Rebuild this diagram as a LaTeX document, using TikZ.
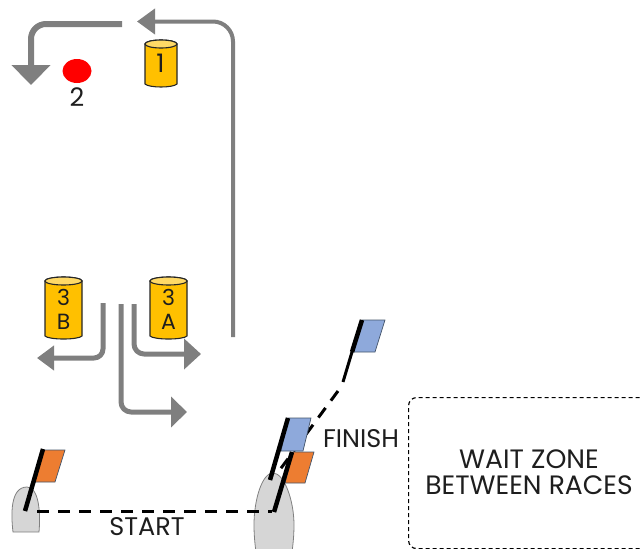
\documentclass[tikz,border=0pt]{standalone}
\usepackage{fontspec}
\setmainfont{Poppins}
\usetikzlibrary{arrows.meta}
\definecolor{arrowgrey}{RGB}{127,127,127}
\definecolor{buoy}{RGB}{255,192,0}
\definecolor{buoytop}{RGB}{255,217,102}
\definecolor{flagblue}{RGB}{142,169,219}
\definecolor{flagorange}{RGB}{237,125,49}
\definecolor{flagedge}{RGB}{68,84,106}
\definecolor{boatgrey}{RGB}{214,214,214}
\definecolor{inkc}{RGB}{30,30,30}
\tikzset{
  course/.style={draw=arrowgrey,line join=round},
  lbl/.style={font=\fontsize{25.5}{26}\selectfont,text=inkc,inner sep=0pt,align=center},
  waitlbl/.style={font=\fontsize{26.6}{26}\selectfont,text=inkc,inner sep=0pt,align=center},
  buoylbl/.style={font=\fontsize{22}{24}\selectfont,text=inkc,inner sep=0pt,align=center},
  flagblue box/.style={fill=flagblue,draw=flagedge,line width=.7pt},
  flagorange box/.style={fill=flagorange,draw=flagedge,line width=.7pt},
  pole/.style={line width=4.5pt,black},
  boat/.style={fill=boatgrey,draw=gray,line width=.8pt},
  lineset/.style={line width=3pt,black,dash pattern=on 12pt off 9pt},
}
\newcommand{\buoycyl}[5]{% x1 x2 ytop ybot ry
  \path[fill=buoy,draw=black!85,line width=1.1pt]
    (#1,#3) -- (#1,#4-2) .. controls (#1+4,#4+2) and (#2-4,#4+2) .. (#2,#4-2) -- (#2,#3)
    arc[start angle=0,end angle=180,x radius={(#2-#1)/2},y radius=-#5] -- cycle;
  \path[fill=buoytop,draw=black!85,line width=1.1pt] ({(#1+#2)/2},#3) ellipse[x radius={(#2-#1)/2},y radius=#5];
}
\begin{document}
\begin{tikzpicture}[x=1pt,y=-1pt]
\useasboundingbox (0,0) rectangle (641,549);
\clip (0,0) rectangle (641,549);
% course arrows
\coordinate (a1s) at (122,24); \coordinate (a1c) at (31,24); \coordinate (a1e) at (31,85);
\draw[course,line width=6pt,rounded corners=15pt,-{Triangle[length=20pt,width=38pt,fill=arrowgrey]}] (a1s) -- (a1c) -- (a1e);
\coordinate (a2s) at (233,337); \coordinate (a2c) at (233,21.5); \coordinate (a2e) at (137,21.5);
\draw[course,line width=4pt,rounded corners=20pt,-{Triangle[length=18pt,width=25pt,fill=arrowgrey]}] (a2s) -- (a2c) -- (a2e);
\coordinate (a3s) at (103,303); \coordinate (a3c) at (103,358); \coordinate (a3e) at (37,358);
\draw[course,line width=5pt,rounded corners=9pt,-{Triangle[length=17pt,width=24pt,fill=arrowgrey]}] (a3s) -- (a3c) -- (a3e);
\coordinate (a4s) at (121,304); \coordinate (a4c) at (121,412); \coordinate (a4e) at (187,412);
\draw[course,line width=5pt,rounded corners=10pt,-{Triangle[length=16pt,width=30pt,fill=arrowgrey]}] (a4s) -- (a4c) -- (a4e);
\coordinate (a5s) at (134,304); \coordinate (a5c) at (134,354); \coordinate (a5e) at (201,354);
\draw[course,line width=5pt,rounded corners=10pt,-{Triangle[length=17pt,width=30pt,fill=arrowgrey]}] (a5s) -- (a5c) -- (a5e);
% buoys
\buoycyl{145}{177}{44}{86}{4}
\node[lbl] (n1) at (160.5,63) {1};
\fill[red] (77,71) ellipse[x radius=14.5,y radius=12];
\node[lbl] (n2) at (77,97) {2};
\buoycyl{45}{82}{281}{338}{4}
\node[buoylbl] (n3b) at (63.5,309) {3\\B};
\buoycyl{150}{187}{281}{338}{4}
\node[buoylbl] (n3a) at (168.5,309) {3\\A};
% start
\draw[boat] (13,532) .. controls (11,515) and (10,487) .. (27,487) .. controls (38,487) and (41,510) .. (39,532) -- cycle;
\draw[boat] (273,473) .. controls (262,473) and (254,500) .. (254,525) .. controls (254,535) and (255,545) .. (256,552) -- (292,552) .. controls (293,545) and (294,535) .. (294,525) .. controls (294,500) and (284,473) .. (273,473) -- cycle;
\coordinate (ls) at (37,511); \coordinate (le) at (272,511);
\draw[lineset] (ls) -- (le);
\coordinate (fs) at (338,391); \coordinate (fe) at (276,475);
\draw[lineset] (fs) -- (fe);
% flags
\path[flagorange box] (44,450) -- (65,450) -- (55,482) -- (35,482) -- cycle;
\coordinate (p1a) at (43,449); \coordinate (p1b) at (25,511);
\draw[pole] (p1a) -- (p1b);
\path[flagblue box] (288,418) -- (311,418) -- (303,451) -- (281,451) -- cycle;
\coordinate (p2a) at (288,418); \coordinate (p2b) at (270,480);
\draw[pole] (p2a) -- (p2b);
\path[flagorange box] (293,452) -- (314,452) -- (305,483) -- (285,483) -- cycle;
\coordinate (p3a) at (292,452); \coordinate (p3b) at (274,512);
\draw[pole] (p3a) -- (p3b);
\path[flagblue box] (362,320) -- (385,320) -- (375,352) -- (351,352) -- cycle;
\coordinate (p4a) at (362,320); \coordinate (p4b) at (352,352); \coordinate (p4c) at (343,382);
\draw[pole] (p4a) -- (p4b);
\draw[line width=3pt,black] (p4b) -- (p4c);
% labels
\node[lbl] (st) at (147,527) {START};
\node[lbl] (fin) at (361,439) {FINISH};
\node[draw=black,line width=1.2pt,dash pattern=on 4pt off 3pt,rounded corners=8pt,minimum width=260pt,minimum height=151pt,anchor=north west,inner sep=0pt] (wait) at (408,397) {};
\node[waitlbl] (wt) at (529,472) {WAIT ZONE\\BETWEEN RACES};
\end{tikzpicture}
\end{document}
